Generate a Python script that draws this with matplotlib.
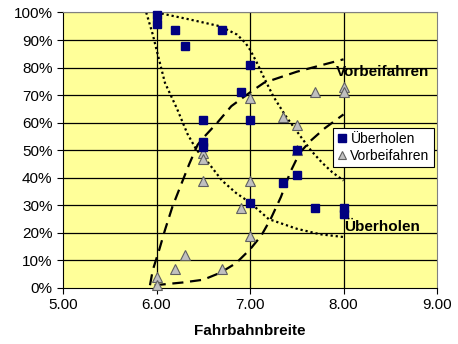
import matplotlib
matplotlib.use("Agg")
import matplotlib.pyplot as plt
from matplotlib.ticker import FuncFormatter, MultipleLocator

plt.rcParams['font.family'] = ['Liberation Sans', 'DejaVu Sans']

# Data: Überholen (squares)
ueb_x = [6.0, 6.0, 6.2, 6.3, 6.7, 7.0, 6.9, 7.0, 6.5, 6.5, 6.5, 7.5, 7.5, 7.35, 7.0, 7.7, 8.0, 8.0]
ueb_y = [0.99, 0.96, 0.935, 0.88, 0.935, 0.81, 0.71, 0.61, 0.61, 0.53, 0.51, 0.50, 0.41, 0.38, 0.31, 0.29, 0.29, 0.27]

# Data: Vorbeifahren (triangles)
vor_x = [6.0, 6.0, 6.2, 6.3, 6.7, 7.0, 7.0, 6.9, 6.5, 6.5, 6.5, 7.0, 7.35, 7.5, 7.5, 7.7, 8.0, 8.0]
vor_y = [0.04, 0.01, 0.07, 0.12, 0.07, 0.19, 0.39, 0.29, 0.39, 0.49, 0.47, 0.69, 0.62, 0.59, 0.50, 0.71, 0.73, 0.71]

# Envelope guide curves
env_a_x = [5.89, 5.96, 6.00, 6.09, 6.22, 6.33, 6.43, 6.53, 6.70, 6.85, 7.00, 7.20, 7.50, 7.75, 8.00]
env_a_y = [1.00, 0.92, 0.865, 0.745, 0.65, 0.56, 0.50, 0.465, 0.39, 0.345, 0.31, 0.25, 0.215, 0.195, 0.185]

env_b_x = [6.00, 6.35, 6.68, 6.86, 6.95, 7.00, 7.07, 7.14, 7.25, 7.38, 7.53, 7.65, 7.77, 7.88, 8.00]
env_b_y = [1.00, 0.975, 0.95, 0.92, 0.89, 0.865, 0.82, 0.77, 0.695, 0.625, 0.555, 0.50, 0.455, 0.42, 0.39]

env_c_x = [5.93, 5.96, 6.03, 6.09, 6.17, 6.28, 6.35, 6.44, 6.50, 6.65, 6.80, 7.00, 7.15, 7.50, 8.00]
env_c_y = [0.01, 0.065, 0.14, 0.21, 0.295, 0.39, 0.45, 0.52, 0.545, 0.60, 0.66, 0.71, 0.745, 0.785, 0.83]

env_d_x = [5.98, 6.28, 6.50, 6.68, 6.85, 7.00, 7.12, 7.22, 7.33, 7.43, 7.53, 7.65, 7.80, 8.00]
env_d_y = [0.01, 0.02, 0.03, 0.055, 0.09, 0.14, 0.19, 0.25, 0.33, 0.42, 0.49, 0.535, 0.58, 0.63]

fig = plt.figure(figsize=(4.58, 3.44), dpi=100)
ax = fig.add_axes([0.1376, 0.1628, 0.8166, 0.8009])
ax.set_facecolor('#FFFF99')

ax.set_xlim(5.0, 9.0)
ax.set_ylim(0.0, 1.0)
ax.xaxis.set_major_locator(MultipleLocator(1.0))
ax.yaxis.set_major_locator(MultipleLocator(0.1))
ax.xaxis.set_major_formatter(FuncFormatter(lambda v, p: f"{v:.2f}"))
ax.yaxis.set_major_formatter(FuncFormatter(lambda v, p: f"{int(round(v*100))}%"))

for yv in [i / 10 for i in range(1, 11)]:
    ax.axhline(yv, color='black' if yv < 1 else '#808080', lw=0.9, zorder=1)
for xv in [6.0, 7.0, 8.0]:
    ax.axvline(xv, color='black', lw=0.9, zorder=1)

for s in ['top', 'right']:
    ax.spines[s].set_color('#808080')
for s in ['left', 'bottom']:
    ax.spines[s].set_color('black')

ax.tick_params(direction='out', length=4, width=0.8, labelsize=11, colors='black')

ax.plot(env_a_x, env_a_y, color='black', lw=1.6, ls=(0, (1, 1.3)), zorder=2)
ax.plot(env_b_x, env_b_y, color='black', lw=1.6, ls=(0, (1, 1.3)), zorder=2)
ax.plot(env_c_x, env_c_y, color='black', lw=1.6, ls=(0, (5, 3)), zorder=2)
ax.plot(env_d_x, env_d_y, color='black', lw=1.6, ls=(0, (5, 3)), zorder=2)

ax.plot(ueb_x, ueb_y, ls='none', marker='s', ms=6, mfc='#000080', mec='#000080',
        label='Überholen', zorder=4, clip_on=False)
ax.plot(vor_x, vor_y, ls='none', marker='^', ms=7, mfc='#C0C0C0', mec='#606060', mew=0.8,
        label='Vorbeifahren', zorder=3, clip_on=False)

ax.text(7.92, 0.785, 'Vorbeifahren', fontsize=11, fontweight='bold', va='center', ha='left', zorder=5)
ax.text(8.01, 0.22, 'Überholen', fontsize=11, fontweight='bold', va='center', ha='left', zorder=5)

leg = ax.legend(loc='upper left', bbox_to_anchor=(0.722, 0.582), frameon=True, fancybox=False,
                fontsize=10, handlelength=0.7, handletextpad=0.25, borderpad=0.3,
                labelspacing=0.2, borderaxespad=0, markerscale=0.85)
leg.get_frame().set_edgecolor('black')
leg.get_frame().set_linewidth(0.8)
leg.get_frame().set_facecolor('white')
leg.get_frame().set_alpha(1)

ax.set_xlabel('Fahrbahnbreite', fontsize=11, fontweight='bold', labelpad=8)

fig.savefig('out.png', dpi=100, facecolor='white')
